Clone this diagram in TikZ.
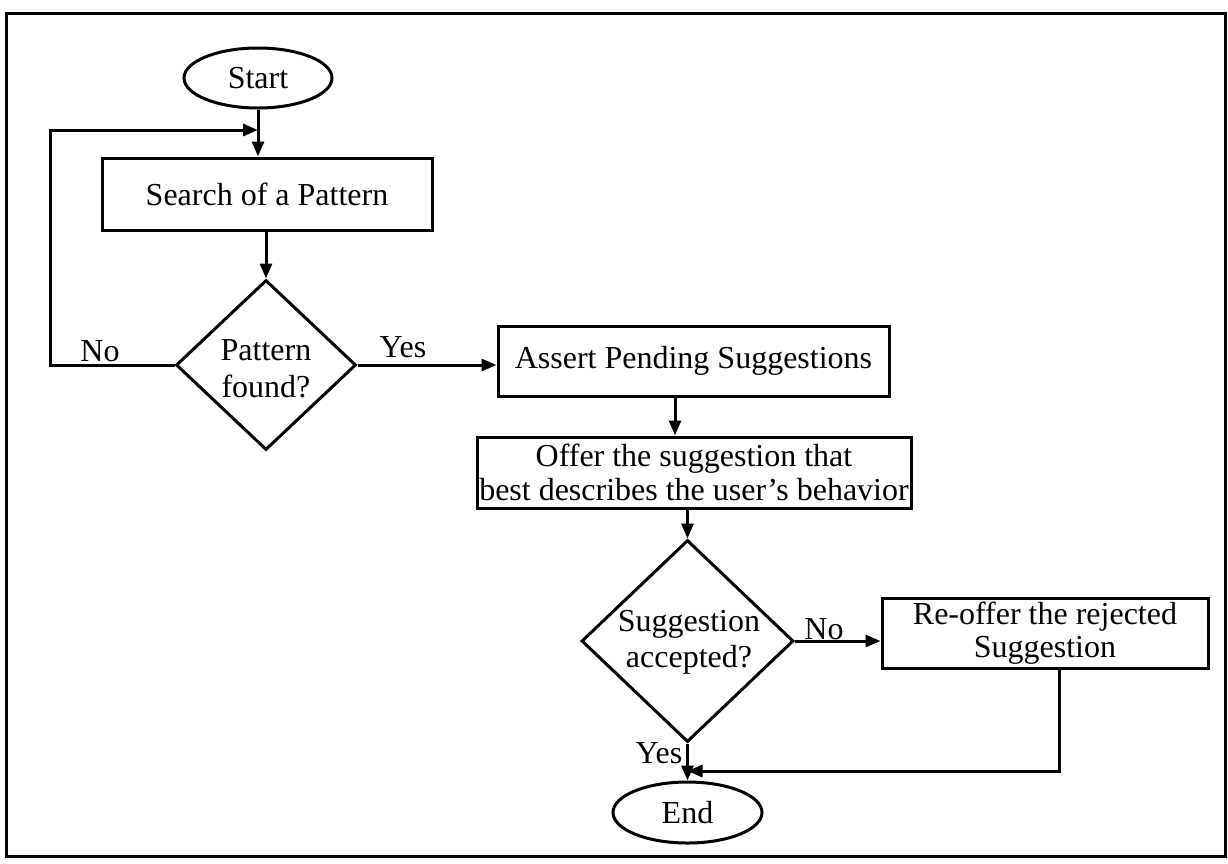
\documentclass[tikz,border=0pt]{standalone}
\usepackage{fontspec}
\setmainfont{Liberation Serif}
\usetikzlibrary{shapes.geometric,arrows.meta}
\begin{document}
\begin{tikzpicture}[x=1pt,y=-1pt,
  every node/.style={font=\fontsize{32}{36}\selectfont},
  ln/.style={line width=3pt},
  arr/.style={ln,-{Triangle[length=15pt,width=12pt]}},
  procbox/.style={draw,ln,rectangle,inner sep=0pt,align=center},
  termnode/.style={draw,ln,ellipse,inner sep=0pt},
  decnode/.style={draw,ln,diamond,inner sep=0pt},
  txt/.style={inner sep=0pt,align=center}]
\fill[white] (0,0) rectangle (1228,863);
\useasboundingbox (0,0) rectangle (1228,863);
\draw[ln] (6,13) rectangle (1225,856);
% nodes
\node[termnode,minimum width=148pt,minimum height=60pt] (start) at (258,78) {Start};
\node[procbox,minimum width=330pt,minimum height=72pt] (search) at (267,194) {Search of a Pattern};
\node[decnode,minimum width=180pt,minimum height=170pt] (d1) at (266,365) {};
\node[txt,font=\fontsize{32}{37}\selectfont] (d1t) at (266,369) {Pattern\\found?};
\node[procbox,minimum width=391pt,minimum height=70pt] (assert) at (693.5,361) {Assert Pending Suggestions};
\node[procbox,minimum width=434pt,minimum height=71pt,font=\fontsize{32}{34}\selectfont] (offer) at (694,472.5) {Offer the suggestion that\\best describes the user’s behavior};
\node[decnode,minimum width=212pt,minimum height=202pt] (d2) at (687.5,641) {};
\node[txt,font=\fontsize{32}{36.5}\selectfont] (d2t) at (689,642.5) {Suggestion\\accepted?};
\node[procbox,minimum width=326pt,minimum height=70pt,font=\fontsize{32}{33}\selectfont] (reoffer) at (1045,633) {Re-offer the rejected\\Suggestion};
\node[termnode,minimum width=149pt,minimum height=61pt] (end) at (687.5,812.5) {End};
% labels
\node[anchor=base,inner sep=0pt] (no1) at (100,361) {No};
\node[anchor=base,inner sep=0pt] (yes1) at (403,357) {Yes};
\node[anchor=base,inner sep=0pt] (no2) at (824,639) {No};
\node[anchor=base,inner sep=0pt] (yes2) at (659,763) {Yes};
% helper coordinates
\coordinate (loopL) at (50,365);
\coordinate (loopT) at (50,130);
\coordinate (ret) at (1059,771);
% connectors
\draw[arr] (start.south) -- (start.south |- search.north);
\draw[arr] (d1.west) -- (loopL) -- (loopT) -- (loopT -| start.south);
\draw[arr] (d1.north |- search.south) -- (d1.north);
\draw[arr] (d1.east) -- (d1.east -| assert.west);
\draw[arr] ([xshift=-18.5pt]assert.south) -- ([xshift=-18.5pt]assert.south |- offer.north);
\draw[arr] (d2.north |- offer.south) -- (d2.north);
\draw[arr] (d2.east) -- (d2.east -| reoffer.west);
\draw[arr] (d2.south) -- (end.north);
\draw[arr] ([xshift=14pt]reoffer.south) -- ([xshift=14pt]reoffer.south |- ret) -- (ret -| end.north);
\end{tikzpicture}
\end{document}
